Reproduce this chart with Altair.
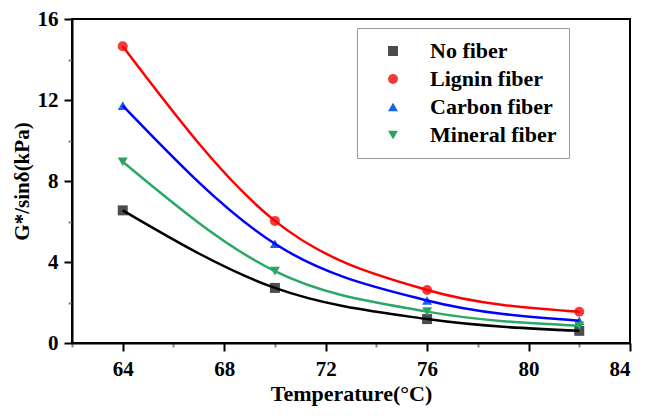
import altair as alt
import pandas as pd

temps = [64, 70, 76, 82]
series_names = ["No fiber", "Lignin fiber", "Carbon fiber", "Mineral fiber"]
no_fiber = [6.55, 2.72, 1.18, 0.60]
lignin = [14.65, 6.03, 2.62, 1.54]
carbon = [11.72, 4.90, 2.10, 1.10]
mineral = [8.95, 3.55, 1.55, 0.85]

point_colors = ["#4d4d4d", "#f53a3a", "#1a62e6", "#2ca35e"]
line_colors = ["#000000", "#ff0000", "#0000ff", "#2aa865"]
shapes = ["square", "circle", "triangle-up", "triangle-down"]

x_major = [64, 68, 72, 76, 80, 84]
x_minor = [62, 66, 70, 74, 78, 82]
y_major = [0, 4, 8, 12, 16]
y_minor = [2, 6, 10, 14]

rows = []
for name, vals in zip(series_names, [no_fiber, lignin, carbon, mineral]):
    for t, v in zip(temps, vals):
        rows.append({"temp": t, "value": v, "series": name})
df = pd.DataFrame(rows)

FONT = "Liberation Serif"
xs = alt.Scale(domain=[62, 84], nice=False, zero=False)
ys = alt.Scale(domain=[0, 16], nice=False)

leg = alt.Legend(title=None, orient="none", legendX=285, legendY=9,
                 strokeColor="#999999", fillColor="white", padding=12,
                 labelFont=FONT, labelFontSize=22, labelFontWeight="bold",
                 labelColor="black", symbolSize=100, rowPadding=6,
                 labelOffset=26, symbolOffset=13, symbolStrokeWidth=0,
                 labelExpr="datum.label + '\u00a0\u00a0\u00a0'")

minor = alt.Chart(df).mark_point(opacity=0).encode(
    x=alt.X("temp:Q", scale=xs, axis=alt.Axis(orient="bottom", values=x_minor, labels=False,
                                             tickSize=4, tickWidth=2, domain=False, grid=False, title=None)),
    y=alt.Y("value:Q", scale=ys, axis=alt.Axis(orient="left", values=y_minor, labels=False,
                                              tickSize=4, tickWidth=2, domain=False, grid=False, title=None)),
)

points = alt.Chart(df).mark_point(filled=True, size=100, opacity=1).encode(
    x=alt.X("temp:Q", scale=xs, axis=alt.Axis(orient="bottom", values=x_major, title="Temperature(°C)",
                                             tickSize=8, tickWidth=2, domainWidth=2, domainColor="black",
                                             tickColor="black", grid=False, labelFontSize=21,
                                             labelFontWeight="bold", labelFont=FONT, labelColor="black",
                                             titleFont=FONT, titleFontSize=22, titleFontWeight="bold",
                                             titleColor="black", labelPadding=7, titlePadding=4)),
    y=alt.Y("value:Q", scale=ys, axis=alt.Axis(orient="left", values=y_major, title="G*/sinδ(kPa)",
                                              tickSize=8, tickWidth=2, domainWidth=2, domainColor="black",
                                              tickColor="black", grid=False, labelFontSize=21,
                                              labelFontWeight="bold", labelFont=FONT, labelColor="black",
                                              titleFont=FONT, titleFontSize=21, titleFontWeight="bold",
                                              titleColor="black", labelPadding=6, titlePadding=5)),
    color=alt.Color("series:N", scale=alt.Scale(domain=series_names, range=point_colors),
                    sort=series_names, legend=leg),
    shape=alt.Shape("series:N", scale=alt.Scale(domain=series_names, range=shapes),
                    sort=series_names, legend=leg),
)

lines = alt.Chart(df).mark_line(interpolate="monotone", strokeWidth=2.5).encode(
    x=alt.X("temp:Q", scale=xs, axis=None),
    y=alt.Y("value:Q", scale=ys, axis=None),
    stroke=alt.Stroke("series:N", scale=alt.Scale(domain=series_names, range=line_colors), legend=None),
    detail="series:N",
)

chart = alt.layer(minor, points, lines).resolve_axis(
    x="independent", y="independent"
).properties(
    width=558, height=324,
    autosize=alt.AutoSizeParams(type="none"),
    padding={"left": 64, "top": 11, "right": 11, "bottom": 65},
).configure(background="white", font=FONT).configure_view(stroke="black", strokeWidth=2).configure_axis(
    labelFont=FONT, titleFont=FONT
).configure_legend(labelFont=FONT)

chart.save("out.html", embed_options={"renderer": "svg", "actions": False})
